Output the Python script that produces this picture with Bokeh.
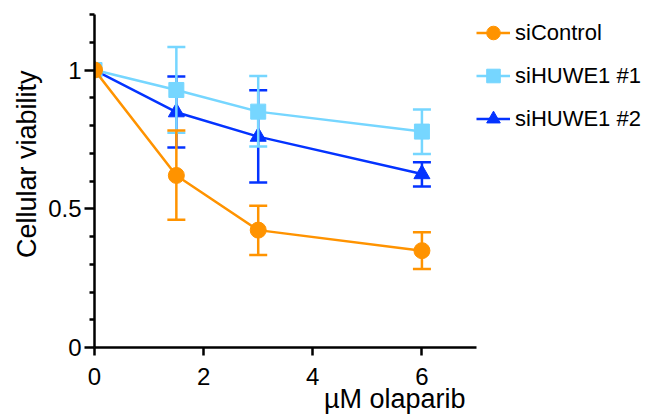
from bokeh.plotting import figure
from bokeh.models import FixedTicker, Legend, LegendItem, Range1d, Title
from bokeh.embed import file_html
from bokeh.resources import INLINE

# ---- data ----
doses = [0, 1.5, 3, 6]
err_doses = [1.5, 3, 6]

sicontrol = [1.0, 0.62, 0.423, 0.349]
sicontrol_upper = [0.782, 0.511, 0.415]
sicontrol_lower = [0.460, 0.333, 0.283]

sihuwe1_1 = [1.0, 0.928, 0.850, 0.778]
sihuwe1_1_upper = [1.083, 0.978, 0.858]
sihuwe1_1_lower = [0.774, 0.724, 0.697]

sihuwe1_2 = [1.0, 0.848, 0.760, 0.625]
sihuwe1_2_upper = [0.977, 0.927, 0.668]
sihuwe1_2_lower = [0.721, 0.595, 0.580]

series_names = ["siControl", "siHUWE1 #1", "siHUWE1 #2"]
x_ticks = [0, 2, 4, 6]
y_ticks = [0, 0.5, 1]
y_tick_labels = ["0", "0.5", "1"]
y_minor_ticks = [0.1, 0.2, 0.3, 0.4, 0.6, 0.7, 0.8, 0.9, 1.1, 1.2]

FONT = "Liberation Sans"
ORANGE = "#FF9300"
SKY = "#76D6FF"
BLUE = "#0433FF"

p = figure(frame_width=382, frame_height=333, output_backend="svg", toolbar_location=None,
           x_range=Range1d(0, 7), y_range=Range1d(0, 1.2),
           min_border_left=94, min_border_right=0, min_border_top=14, min_border_bottom=69)
p.outline_line_color = None
p.grid.visible = False
p.background_fill_color = None

for ax in (p.xaxis[0], p.yaxis[0]):
    ax.axis_line_width = 2.5
    ax.axis_line_color = "black"
    ax.major_tick_line_width = 2.5
    ax.minor_tick_line_width = 2.5
    ax.major_tick_in = 0
    ax.minor_tick_in = 0
    ax.major_label_text_font = FONT
    ax.major_label_text_font_size = "24px"
    ax.major_label_text_color = "black"

p.xaxis.ticker = FixedTicker(ticks=x_ticks)
p.xaxis.major_tick_out = 8
p.xaxis.minor_tick_out = 0
p.xaxis.major_label_standoff = 12

p.yaxis.ticker = FixedTicker(ticks=y_ticks, minor_ticks=y_minor_ticks)
p.yaxis.major_label_overrides = {t: l for t, l in zip(y_ticks, y_tick_labels)}
p.yaxis.major_tick_out = 10
p.yaxis.minor_tick_out = 5
p.yaxis.major_label_standoff = 3

xtitle = Title(text="µM olaparib", align="right", offset=11,
               text_font=FONT, text_font_size="27px", text_font_style="normal",
               text_color="black", standoff=-12)
p.add_layout(xtitle, "below")

ytitle = Title(text="Cellular viability", align="right", offset=56,
               text_font=FONT, text_font_size="27px", text_font_style="normal",
               text_color="black", standoff=8)
p.add_layout(ytitle, "left")


def draw(y, up, lo, color, marker, size):
    p.scatter(err_doses, up, marker="dash", size=18, line_color=color, line_width=2.5)
    p.scatter(err_doses, lo, marker="dash", size=18, line_color=color, line_width=2.5)
    p.segment(x0=err_doses, y0=lo, x1=err_doses, y1=up, line_color=color, line_width=2.5)
    ln = p.line(doses, y, line_color=color, line_width=2.5)
    mk = p.scatter(doses, y, marker=marker, size=size, fill_color=color, line_color=color)
    return [ln, mk]


r2 = draw(sihuwe1_2, sihuwe1_2_upper, sihuwe1_2_lower, BLUE, "triangle", 16)
r1 = draw(sihuwe1_1, sihuwe1_1_upper, sihuwe1_1_lower, SKY, "square", 15)
r0 = draw(sicontrol, sicontrol_upper, sicontrol_lower, ORANGE, "circle", 16)

legend = Legend(items=[LegendItem(label=series_names[0], renderers=r0),
                       LegendItem(label=series_names[1], renderers=r1),
                       LegendItem(label=series_names[2], renderers=r2)],
                location="top_left", padding=0, margin=0, spacing=6,
                glyph_width=34, glyph_height=37, label_height=37, label_standoff=5,
                label_text_font=FONT, label_text_font_size="22px", label_text_color="black",
                background_fill_alpha=0, border_line_color=None)
p.add_layout(legend, "right")

open("out.html", "w").write(file_html(p, INLINE))
